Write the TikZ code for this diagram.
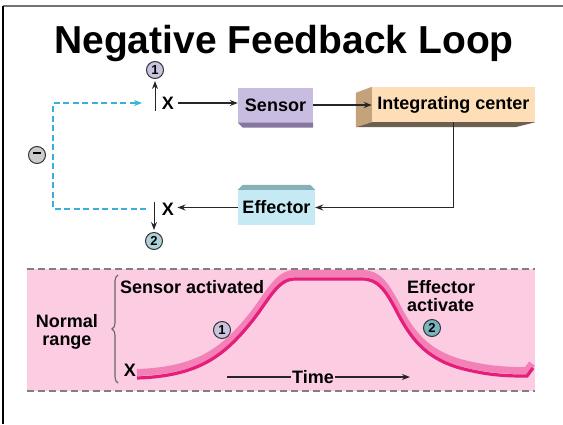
\documentclass[tikz,border=0pt]{standalone}
\usepackage{fontspec}
\setmainfont{Liberation Sans}
\usetikzlibrary{calc,arrows.meta,decorations.pathreplacing}
\definecolor{sensorface}{RGB}{201,188,225}
\definecolor{sensordark}{RGB}{134,118,160}
\definecolor{intface}{RGB}{254,222,182}
\definecolor{intside}{RGB}{196,162,124}
\definecolor{intshadow}{RGB}{110,96,80}
\definecolor{effface}{RGB}{198,234,243}
\definecolor{effdark}{RGB}{136,176,184}
\definecolor{fbcyan}{RGB}{56,176,216}
\definecolor{rangepink}{RGB}{252,204,227}
\definecolor{ribbon}{RGB}{228,30,122}
\definecolor{ribbonlight}{RGB}{243,128,182}
\definecolor{numlav}{RGB}{200,196,222}
\definecolor{numteal}{RGB}{120,180,192}

\newcommand{\labelfont}{\bfseries\fontsize{18}{18}\selectfont}

\tikzset{
  box/.style={rectangle, font=\labelfont, minimum height=35pt, inner xsep=0pt},
  lbl/.style={font=\labelfont},
  numcirc/.style={circle, draw=black!80, line width=1pt, inner sep=0pt,
    minimum size=17pt, font=\bfseries\fontsize{13}{13}\selectfont},
  flow/.style={-{Stealth[length=8pt,width=6pt]}, line width=1.3pt, black!85},
  feedback/.style={-{Stealth[length=8pt,width=6pt]}, line width=1.6pt, fbcyan,
    dash pattern=on 6pt off 3.5pt},
  rangedash/.style={black!50, line width=1.6pt, dash pattern=on 7pt off 4pt},
}

\begin{document}
\begin{tikzpicture}[x=1pt,y=-1pt]
\useasboundingbox (0,0) rectangle (563,424);

% Slide frame
\draw[black!55, line width=1.8pt] (3,6) -- (563,6);
\draw[black, line width=1.4pt] (3,6) -- (3,424);

% Title
\node[anchor=base, font=\bfseries\fontsize{39}{39}\selectfont] (title) at (284,53) {Negative Feedback Loop};

% Boxes
\node[box, fill=sensorface, minimum width=75pt] (sensor) at (275.5,105) {Sensor};
\fill[sensordark] (sensor.south west) -- (sensor.south east) -- ++(0,5) -- ($(sensor.south west)+(5,5)$) -- cycle;

\node[box, fill=intface, minimum width=163pt] (integ) at (453.5,104.5) {Integrating center};
\fill[intside] (integ.north west) -- (integ.south west) -- ++(-16,5) -- ($(integ.north west)+(-16,6)$) -- cycle;
\fill[intshadow] (integ.south west) -- (integ.south east) -- ++(-20,5) -- ($(integ.south west)+(-16,5)$) -- cycle;

\node[box, fill=effface, minimum width=77pt] (effector) at (276.5,207.5) {Effector};
\fill[effdark] (effector.north west) -- ++(5,-5) -- ($(effector.north east)+(-5,-5)$) -- (effector.north east) -- cycle;

% Loop
\node[lbl] (xtop) at (168,103) {X};
\node[lbl] (xbot) at (168,209) {X};
\draw[flow] (xtop.east) -- (xtop.east -| sensor.west);
\draw[flow] (sensor.east) -- (sensor.east -| integ.west);
\draw[flow] (integ.south) |- (effector.east);
\draw[flow] (effector.west) -- (effector.west -| xbot.east);

% Deviations
\node[numcirc, fill=numlav] (ntop) at (155,70) {1};
\coordinate (upfoot) at (155,111);
\draw[flow, line width=1pt, shorten >=2pt] (upfoot) -- (ntop.south);
\node[numcirc, fill=numteal!60] (nbot) at (154,241) {2};
\coordinate (downfoot) at (154,202);
\draw[flow, line width=1pt, shorten >=2pt] (downfoot) -- (nbot.north);

% Feedback
\node[numcirc, fill=black!20] (minus) at (37,155) {\rule[3.6pt]{8pt}{2.2pt}};
\coordinate (fbfoot) at (146,209);
\coordinate (fbhead) at (142,103);
\draw[feedback] (fbfoot) -- ++(-93,0) |- (fbhead);

% Normal range panel
\fill[rangepink] (27,269) rectangle (535,391);
\draw[rangedash] (27,269) -- (535,269);
\draw[rangedash] (27,391) -- (535,391);
\draw[decorate, decoration={brace, amplitude=6pt}, black!60, line width=1.1pt] (118,383) -- (118,275);
\node[lbl, align=center] (normal) at (67,332) {Normal\\range};
\node[lbl, anchor=west, inner sep=0pt] (sensact) at (120,287) {Sensor activated};
\node[lbl, anchor=west, align=left, inner sep=0pt] (effact) at (407,296) {Effector\\activate};

% Trend
\draw[line width=7pt, ribbonlight, yshift=2.5pt] (137,375) .. controls (200,373) and (225,352) .. (253,317) .. controls (270,295) and (278,276) .. (295,276) -- (362,276) .. controls (378,276) and (385,287) .. (395,305) .. controls (410,335) and (425,355) .. (460,365) .. controls (490,373) and (510,373) .. (527,373) -- (532,366);
\draw[line width=3.2pt, ribbon] (137,378) .. controls (200,376) and (225,355) .. (253,320) .. controls (270,298) and (278,279) .. (295,279) -- (362,279) .. controls (378,279) and (385,290) .. (395,308) .. controls (410,338) and (425,358) .. (460,368) .. controls (490,376) and (510,376) .. (527,376) -- (533,368);

\node[lbl] (xlow) at (130,370) {X};
\node[numcirc, fill=numlav] (n1) at (222,330) {1};
\node[numcirc, fill=numteal] (n2) at (432,328) {2};

% Time axis
\node[lbl, inner sep=1pt] (time) at (313,377) {Time};
\coordinate (tstart) at (227,377);
\coordinate (tend) at (410,377);
\draw[line width=1.3pt, black!85] (tstart) -- (time.west);
\draw[flow] (time.east) -- (tend);
\end{tikzpicture}
\end{document}
